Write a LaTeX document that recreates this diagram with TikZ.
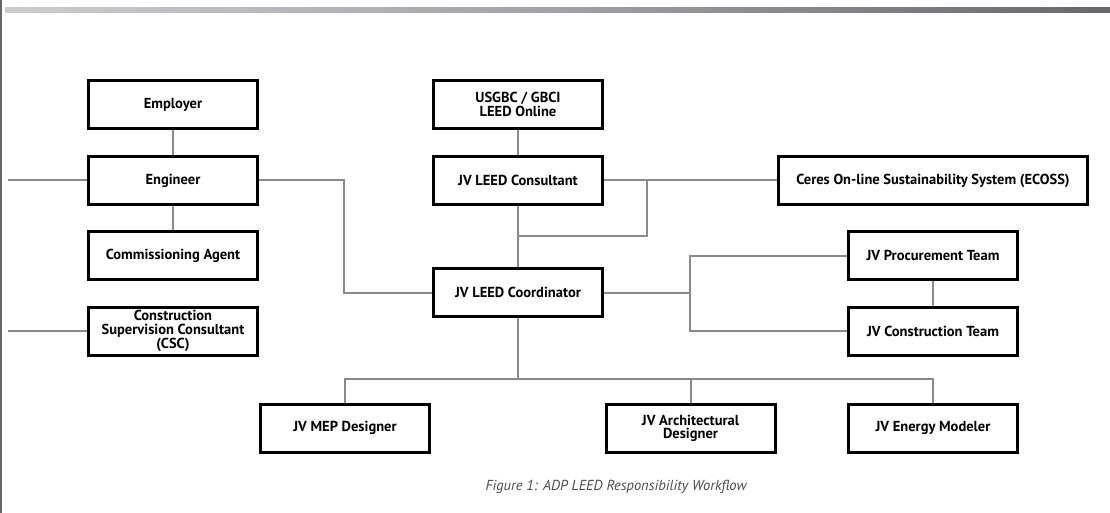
\documentclass[tikz,border=0pt]{standalone}
\usepackage{fontspec}
\setmainfont{PT Sans}
\usetikzlibrary{calc}
\definecolor{connc}{HTML}{8A8A8A}
\definecolor{capc}{HTML}{4C4C4C}
\definecolor{barA}{HTML}{F6F6F6}
\definecolor{barB}{HTML}{A3A1A6}
\definecolor{barC}{HTML}{5E5B60}
\pgfdeclarehorizontalshading{topbar}{100bp}{color(0bp)=(barA); color(50bp)=(barB); color(80bp)=(barC); color(100bp)=(black)}
\tikzset{
  box/.style={draw=black, line width=3pt, fill=white, minimum width=169pt, minimum height=48pt,
    inner sep=0pt, align=center, font=\bfseries\fontsize{14.5}{13.2}\selectfont},
  conn/.style={draw=connc, line width=2pt},
}
\begin{document}
\begin{tikzpicture}[x=1pt,y=-1pt]
\useasboundingbox (0,0) rectangle (1110,513);
% top gradient bar and left rule
\shade[shading=topbar] (5,8) rectangle (1110,12.5);
\draw[draw=black!60, line width=1.5pt] (0.75,0) -- (0.75,513);

% nodes
\node[box] (emp) at (173,104.5) {Employer};
\node[box] (eng) at (173,180.5) {Engineer};
\node[box] (com) at (173,255.5) {Commissioning Agent};
\node[box] (csc) at (173,331) {Construction\\Supervision Consultant\\(CSC)};
\node[box] (usg) at (518,104.5) {USGBC / GBCI\\LEED Online};
\node[box] (cons) at (518,180.5) {JV LEED Consultant};
\node[box] (coord) at (518,292.5) {JV LEED Coordinator};
\node[box, minimum width=309pt] (ecoss) at (933,180.5) {Ceres On-line Sustainability System (ECOSS)};
\node[box] (proc) at (933,255.5) {JV Procurement Team};
\node[box] (constr) at (933,331) {JV Construction Team};
\node[box] (mep) at (345,428) {JV MEP Designer};
\node[box] (arch) at (690.5,428) {JV Architectural\\Designer};
\node[box] (energy) at (933,428) {JV Energy Modeler};

\node[font=\itshape\fontsize{14.5}{16}\selectfont, text=capc, inner sep=0pt] (cap) at (616,487)
  {Figure 1: ADP LEED Responsibility Workflow};

% coordinates
\coordinate (l1) at (8,180.5);
\coordinate (l2) at (8,331);
\coordinate (b1) at (344,180.5);
\coordinate (j1) at (647,180.5);
\coordinate (j2) at (518,236);
\coordinate (k) at (690,292.5);
\coordinate (h) at (518,379);

% connectors
\draw[conn] (emp.south) -- (eng.north);
\draw[conn] (eng.south) -- (com.north);
\draw[conn] (l1) -- (eng.west);
\draw[conn] (l2) -- (csc.west);
\draw[conn] (eng.east) -- (b1) |- (coord.west);
\draw[conn] (usg.south) -- (cons.north);
\draw[conn] (cons.south) -- (coord.north);
\draw[conn] (cons.east) -- (ecoss.west);
\draw[conn] (j1) |- (j2);
\draw[conn] (coord.east) -- (k);
\draw[conn] (proc.west) -| (k) |- (constr.west);
\draw[conn] (proc.south) -- (constr.north);
\draw[conn] (coord.south) -- (h);
\draw[conn] (mep.north) |- (h) -| (energy.north);
\draw[conn] (arch.north) -- (arch.north |- h);
\end{tikzpicture}
\end{document}
